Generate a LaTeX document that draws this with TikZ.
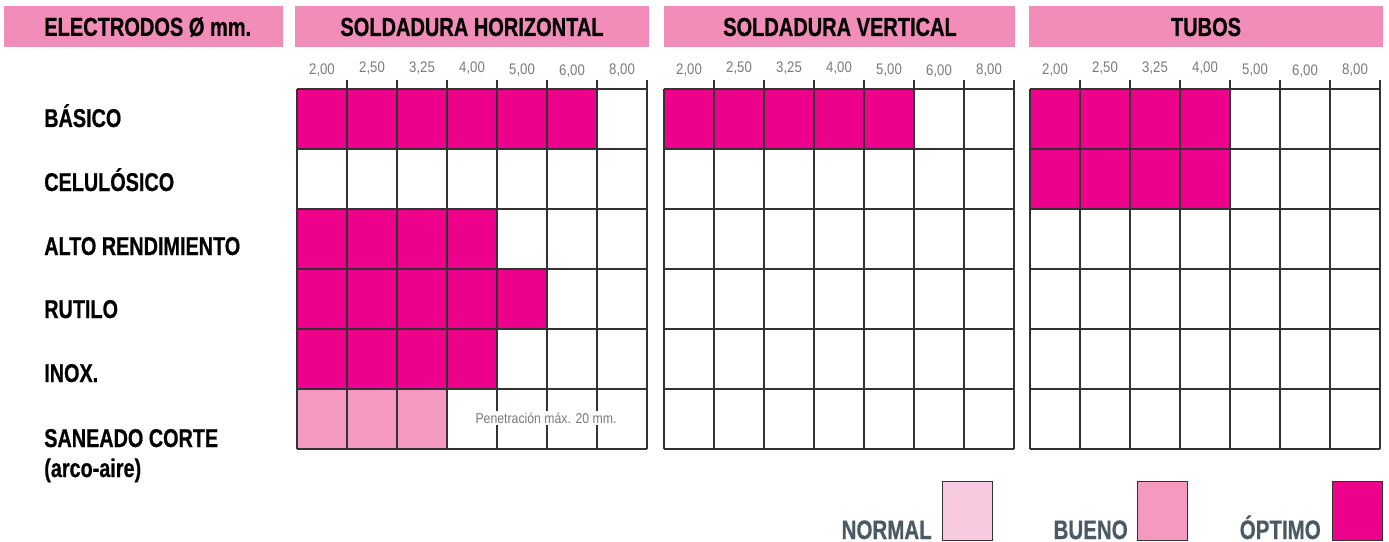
\documentclass[tikz,border=0pt]{standalone}
\usepackage{fontspec}
\setmainfont{Liberation Sans}
\newfontfamily\condf{Liberation Sans}[FakeStretch=0.77,FakeBold=0.6]
\newfontfamily\narrowf{Liberation Sans}[FakeStretch=0.86]
\definecolor{hdr}{HTML}{F28DBA}
\definecolor{opt}{HTML}{EC008C}
\definecolor{bue}{HTML}{F49AC1}
\definecolor{nor}{HTML}{F8CADF}
\definecolor{gridc}{HTML}{333333}
\definecolor{numc}{HTML}{7A7A7A}
\definecolor{legc}{HTML}{4A5963}
\tikzset{
  hdrbar/.style={fill=hdr, draw=none},
  hdrtext/.style={font=\condf\bfseries\fontsize{19.5}{22}\selectfont, text=black, inner sep=0pt},
  rowlab/.style={font=\condf\bfseries\fontsize{19.3}{22}\selectfont, text=black, inner sep=0pt, anchor=base west},
  gl/.style={draw=gridc, line width=1.1pt},
  numlab/.style={font=\narrowf\fontsize{11.5}{13}\selectfont, text=numc, inner sep=0pt},
  legtext/.style={font=\condf\bfseries\fontsize{20}{22}\selectfont, text=legc, inner sep=0pt, anchor=base east},
  legbox/.style={draw=gridc, line width=0.8pt, minimum width=37.5pt, minimum height=44.25pt, inner sep=0pt, anchor=north west},
}
\begin{document}
\begin{tikzpicture}[x=0.75pt, y=-0.75pt]
\useasboundingbox (0,0) rectangle (1389,542);
% header bars
\fill[hdrbar] (4,6) rectangle (283,47);
\fill[hdrbar] (295,6) rectangle (649,47);
\fill[hdrbar] (664,6) rectangle (1015,47);
\fill[hdrbar] (1029,6) rectangle (1383,47);
\node[hdrtext, anchor=west] (hel) at (44,27) {ELECTRODOS Ø mm.};
\node[hdrtext] (hhor) at (472,27) {SOLDADURA HORIZONTAL};
\node[hdrtext] (hver) at (840,27) {SOLDADURA VERTICAL};
\node[hdrtext] (htub) at (1206,27) {TUBOS};
% row labels
\node[rowlab] (l1) at (44,127) {BÁSICO};
\node[rowlab] (l2) at (44,191) {CELULÓSICO};
\node[rowlab] (l3) at (44,255) {ALTO RENDIMIENTO};
\node[rowlab] (l4) at (44,318) {RUTILO};
\node[rowlab] (l5) at (44,382) {INOX.};
\node[rowlab] (l6) at (44,447) {SANEADO CORTE};
\node[rowlab] (l7) at (44,477) {(arco-aire)};
% fills
\foreach \gx/\r/\n/\c in {297/0/6/opt, 297/2/4/opt, 297/3/5/opt, 297/4/4/opt, 297/5/3/bue, 664/0/5/opt, 1030/0/4/opt, 1030/1/4/opt}
  \fill[\c] (\gx,{89+60*\r}) rectangle ++({50*\n},60);
% grids
\foreach \gx in {297,664,1030} {
  \foreach \i in {0,...,6} \draw[gl] (\gx,{89+60*\i}) -- ++(350,0);
  \draw[gl] (\gx,89) -- (\gx,449);
  \foreach \j in {1,...,7} \draw[gl] ({\gx+50*\j},80) -- ({\gx+50*\j},449);
  \foreach \v/\dy [count=\k from 0] in {2{,}00/70.5, 2{,}50/68.5, 3{,}25/68.5, 4{,}00/68.5, 5{,}00/70, 6{,}00/71, 8{,}00/70}
    \node[numlab] at ({\gx+25+50*\k},\dy) {\v};
}
\node[fill=white, inner sep=1.5pt, font=\narrowf\fontsize{10.7}{13}\selectfont, text=numc] (pen) at (546,418) {Penetración máx. 20 mm.};
% legend
\node[legbox, fill=nor] (bnor) at (942,481) {};
\node[legbox, fill=bue] (bbue) at (1137,481) {};
\node[legbox, fill=opt] (bopt) at (1332,481) {};
\node[legtext] (tnor) at (932,539) {NORMAL};
\node[legtext] (tbue) at (1128,539) {BUENO};
\node[legtext] (topt) at (1321,539) {ÓPTIMO};
\end{tikzpicture}
\end{document}
